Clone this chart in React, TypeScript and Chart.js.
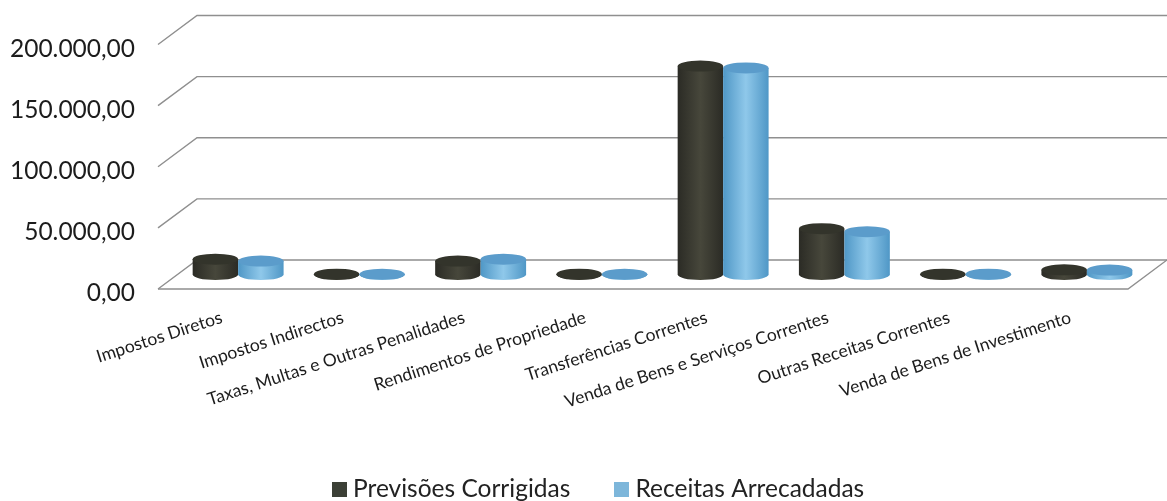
import React, { useEffect, useRef } from "react";
import { Chart, registerables } from "chart.js";

Chart.register(...registerables);

const categories = [
  "Impostos Diretos",
  "Impostos Indirectos",
  "Taxas, Multas e Outras Penalidades",
  "Rendimentos de Propriedade",
  "Transferências Correntes",
  "Venda de Bens e Serviços Correntes",
  "Outras Receitas Correntes",
  "Venda de Bens de Investimento",
];
const previsoes = [12500, 300, 11000, 250, 170500, 37500, 300, 3800];
const receitas = [11000, 200, 12500, 200, 169000, 35000, 250, 3600];
const yTicks = [0, 50000, 100000, 150000, 200000];
const yLabels = ["0,00", "50.000,00", "100.000,00", "150.000,00", "200.000,00"];

const DEPTH_X = 39;
const DEPTH_Y = 29;
const FONT = "Lato";
const PLOT_BOTTOM = 289;
const seriesColors = [
  { legend: "#3c4036", edge: "#2b2b25", mid: "#47473b", top: "#33342b" },
  { legend: "#7db6da", edge: "#4f97c6", mid: "#8fc8ea", top: "#5b9ccb" },
];

const swatch = (color: string) => {
  const c = document.createElement("canvas");
  c.width = 15;
  c.height = 15;
  const x = c.getContext("2d")!;
  x.fillStyle = color;
  x.fillRect(0, 0, 15, 15);
  return c;
};

const stage3d = {
  id: "stage3d",
  afterLayout(chart: any) {
    const lg = chart.legend;
    const dx = 601 - (lg.left + lg.right) / 2;
    lg.left += dx;
    lg.right += dx;
    const dy = 489 - 12 - lg.options.labels.padding - lg.top;
    lg.top += dy;
    lg.bottom += dy;
  },
  beforeDatasetDraw() {
    return false;
  },
  beforeDatasetsDraw(chart: any) {
    const { ctx, chartArea: a, scales } = chart;
    ctx.save();
    ctx.strokeStyle = "#8f8f8f";
    ctx.lineWidth = 1.4;
    for (const t of yTicks) {
      const y = scales.y.getPixelForValue(t);
      ctx.beginPath();
      ctx.moveTo(a.left, y);
      ctx.lineTo(a.left + DEPTH_X, y - DEPTH_Y);
      ctx.lineTo(a.right + DEPTH_X, y - DEPTH_Y);
      ctx.stroke();
    }
    const y0 = scales.y.getPixelForValue(0);
    ctx.beginPath();
    ctx.moveTo(a.left, y0);
    ctx.lineTo(a.right, y0);
    ctx.lineTo(a.right + DEPTH_X, y0 - DEPTH_Y);
    ctx.stroke();
    ctx.restore();
  },
  afterDatasetsDraw(chart: any) {
    const { ctx } = chart;
    const metas = [chart.getDatasetMeta(0), chart.getDatasetMeta(1)];
    const n = chart.data.labels.length;
    for (let i = 0; i < n; i++) {
      metas.forEach((meta: any, s: number) => {
        const el = meta.data[i];
        const c = seriesColors[s];
        const cx = el.x + DEPTH_X / 2;
        const rx = el.width / 2;
        const ry = 5.5;
        const top = el.y - DEPTH_Y / 2;
        const bot = el.base - DEPTH_Y / 2;
        const g = ctx.createLinearGradient(cx - rx, 0, cx + rx, 0);
        g.addColorStop(0, c.edge);
        g.addColorStop(0.5, c.mid);
        g.addColorStop(1, c.edge);
        ctx.save();
        ctx.fillStyle = g;
        ctx.beginPath();
        ctx.moveTo(cx - rx, top);
        ctx.lineTo(cx - rx, bot);
        ctx.ellipse(cx, bot, rx, ry, 0, Math.PI, 0, true);
        ctx.lineTo(cx + rx, top);
        ctx.closePath();
        ctx.fill();
        ctx.fillStyle = c.top;
        ctx.beginPath();
        ctx.ellipse(cx, top, rx, ry, 0, 0, Math.PI * 2);
        ctx.fill();
        ctx.restore();
      });
    }
  },
};

export default function App() {
  const ref = useRef<HTMLCanvasElement>(null);
  useEffect(() => {
    const chart: any = new Chart(ref.current!, {
      type: "bar",
      data: {
        labels: categories,
        datasets: [
          { label: "Previsões Corrigidas", data: previsoes, backgroundColor: seriesColors[0].legend },
          { label: "Receitas Arrecadadas", data: receitas, backgroundColor: seriesColors[1].legend },
        ],
      },
      options: {
        responsive: false,
        animation: false,
        layout: { padding: { top: 44.5, right: 39, left: 0, bottom: 0 } },
        datasets: { bar: { categoryPercentage: 0.75, barPercentage: 1 } },
        scales: {
          x: {
            grid: { display: false },
            border: { display: false },
            afterFit: (s: any) => {
              s.height = 501 - PLOT_BOTTOM - s.chart.legend.height;
            },
            ticks: {
              autoSkip: false,
              minRotation: 18,
              maxRotation: 18,
              padding: 10,
              labelOffset: 3,
              color: "#1c1c1c",
              font: { family: FONT, size: 17.5 },
            },
          },
          y: {
            min: 0,
            max: 200000,
            grid: { display: false },
            border: { display: false },
            afterFit: (s: any) => { s.width = 158; },
            afterBuildTicks: (s: any) => { s.ticks = yTicks.map((v) => ({ value: v })); },
            ticks: {
              padding: 15,
              color: "#1c1c1c",
              font: { family: FONT, size: 24.5, lineHeight: "9px" },
              callback: (v: any) => ["", yLabels[yTicks.indexOf(Number(v))]],
            },
          },
        },
        plugins: {
          tooltip: { enabled: false },
          legend: {
            position: "bottom",
            labels: {
              usePointStyle: true,
              pointStyleWidth: 3,
              boxHeight: 15,
              padding: 50,
              color: "#222",
              font: { family: FONT, size: 24.5 },
              generateLabels: (c: any) =>
                Chart.defaults.plugins.legend.labels.generateLabels(c).map((it: any, i: number) => ({
                  ...it,
                  pointStyle: swatch(seriesColors[i].legend),
                })),
            },
          },
        },
      },
      plugins: [stage3d],
    } as any);
    return () => chart.destroy();
  }, []);
  return (
    <canvas
      ref={ref}
      width={1167}
      height={501}
      style={{ position: "fixed", left: 0, top: 0, width: 1167, height: 501, display: "block" }}
    />
  );
}
